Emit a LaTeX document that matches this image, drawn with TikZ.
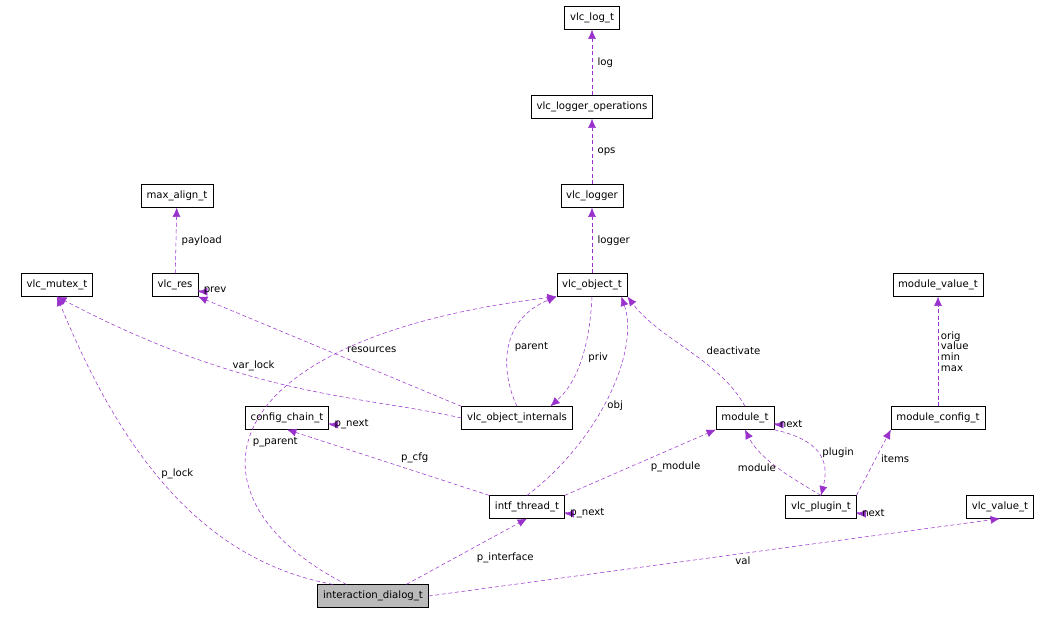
\documentclass[tikz,border=0pt]{standalone}
\usepackage{fontspec}
\setmainfont{DejaVu Sans}
\usetikzlibrary{arrows.meta}
\definecolor{edgepurple}{RGB}{153,50,204}
\tikzset{
  cls/.style={draw, thin, font=\fontsize{7.6}{9}\selectfont, minimum height=17pt, inner xsep=4pt},
  edge/.style={-{Latex[length=7pt,width=6pt]}, densely dashed, edgepurple},
  lbl/.style={font=\fontsize{7.6}{9}\selectfont, text=black, inner sep=1pt}
}
\begin{document}
\begin{tikzpicture}[x=0.75pt, y=-0.75pt]
	\useasboundingbox (0,0) rectangle (1054,617);
	% classes
	\node[cls] (log) at (592,18) {vlc\_log\_t};
	\node[cls] (ops) at (592,107) {vlc\_logger\_operations};
	\node[cls] (logger) at (592,196) {vlc\_logger};
	\node[cls] (align) at (177,196) {max\_align\_t};
	\node[cls] (res) at (175,285) {vlc\_res};
	\node[cls] (mutex) at (57,285) {vlc\_mutex\_t};
	\node[cls] (obj) at (592,285) {vlc\_object\_t};
	\node[cls] (mval) at (938,285) {module\_value\_t};
	\node[cls] (chain) at (287,418) {config\_chain\_t};
	\node[cls] (intern) at (517,418) {vlc\_object\_internals};
	\node[cls] (module) at (745,418) {module\_t};
	\node[cls] (mconf) at (938,418) {module\_config\_t};
	\node[cls] (intf) at (527,507) {intf\_thread\_t};
	\node[cls] (plugin) at (821,507) {vlc\_plugin\_t};
	\node[cls] (value) at (1000,507) {vlc\_value\_t};
	\node[cls, fill=black!27] (dialog) at (373,596) {interaction\_dialog\_t};

	% members
	\draw[edge] (ops) -- node[lbl, right=3pt] {log} (log);
	\draw[edge] (logger) -- node[lbl, right=3pt] {ops} (ops);
	\draw[edge] (obj) -- node[lbl, right=3pt] {logger} (logger);
	\draw[edge] (res) -- node[lbl, right=3pt] {payload} (align);
	\draw[edge] (res.east) ++(0,5) to[out=0, in=0, looseness=3] node[lbl, right=2pt] {prev} ([yshift=-5]res.east);
	\draw[edge] (intern.west) .. controls (360,395) and (250,398) .. node[lbl, pos=0.6, above=3pt] {var\_lock} (mutex.south);
	\draw[edge] (intern.north west) -- node[lbl, pos=0.45, above right=2pt] {resources} (res.south east);
	\draw[edge] (intern.north) .. controls (500,370) and (500,320) .. node[lbl, right=3pt] {parent} (obj.south west);
	\draw[edge] (obj.south) .. controls (590,340) and (580,380) .. node[lbl, right=4pt] {priv} ([xshift=25]intern.north);
	\draw[edge] (module.north) .. controls (720,360) and (660,340) .. node[lbl, right=12pt] {deactivate} (obj.south east);
	\draw[edge] (mconf) -- node[lbl, right=1pt, align=left, font=\fontsize{7.6}{8}\selectfont] {orig\\value\\min\\max} (mval);
	\draw[edge] (chain.east) ++(0,5) to[out=0, in=0, looseness=3] node[lbl, right=2pt] {p\_next} ([yshift=-5]chain.east);
	\draw[edge] (module.east) ++(0,5) to[out=0, in=0, looseness=3] node[lbl, right=2pt] {next} ([yshift=-5]module.east);
	\draw[edge] (intf.north west) -- node[lbl, pos=0.45, above right=1pt] {p\_cfg} (chain.south);
	\draw[edge] (intf.north) .. controls (600,440) and (640,350) .. node[lbl, pos=0.45, right=2pt] {obj} ([xshift=22]obj.south);
	\draw[edge] (intf.north east) -- node[lbl, pos=0.55, below right=1pt] {p\_module} (module.south west);
	\draw[edge] (intf.east) ++(0,5) to[out=0, in=0, looseness=3] node[lbl, right=2pt] {p\_next} ([yshift=-5]intf.east);
	\draw[edge] (plugin.north) .. controls (795,480) and (760,460) .. node[lbl, pos=0.5, left=1pt] {module} (module.south);
	\draw[edge] (module.south east) .. controls (820,440) and (830,460) .. node[lbl, pos=0.5, right=2pt] {plugin} (plugin.north);
	\draw[edge] (plugin.north east) -- node[lbl, pos=0.55, right=3pt] {items} (mconf.south west);
	\draw[edge] (plugin.east) ++(0,5) to[out=0, in=0, looseness=3] node[lbl, right=2pt] {next} ([yshift=-5]plugin.east);
	\draw[edge] ([xshift=-30]dialog.north) .. controls (200,560) and (120,450) .. node[lbl, pos=0.55, right=3pt] {p\_lock} (mutex.south);
	\draw[edge] ([xshift=-20]dialog.north) .. controls (180,500) and (200,340) .. node[lbl, pos=0.45, right=2pt] {p\_parent} (obj.south west);
	\draw[edge] ([xshift=25]dialog.north) -- node[lbl, pos=0.55, below right=2pt] {p\_interface} (intf.south);
	\draw[edge] (dialog.east) -- node[lbl, pos=0.55, below=1pt] {val} (value.south);
\end{tikzpicture}
\end{document}
